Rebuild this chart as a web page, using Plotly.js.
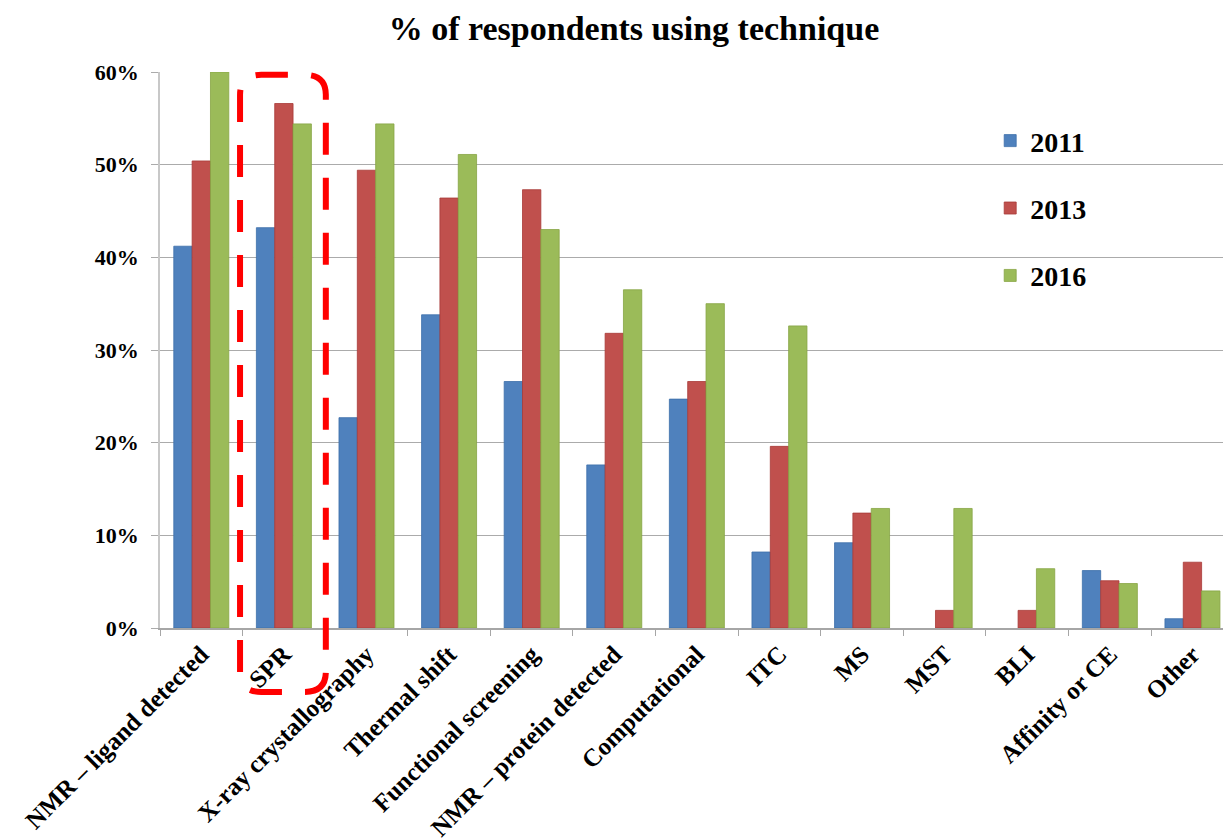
<!DOCTYPE html>
<html>
<head>
<meta charset="utf-8">
<script src="https://cdn.plot.ly/plotly-3.0.1.min.js"></script>
<style>html,body{margin:0;padding:0;overflow:hidden;background:#fff;}</style>
</head>
<body>
<div id="chart" style="width:1223px;height:840px;"></div>
<script>
const categories = ["NMR – ligand detected", "SPR", "X-ray crystallography", "Thermal shift",
  "Functional screening", "NMR – protein detected", "Computational", "ITC", "MS", "MST", "BLI",
  "Affinity or CE", "Other"];
const years = ["2011", "2013", "2016"];
const values2011 = [41.2, 43.2, 22.7, 33.8, 26.6, 17.6, 24.7, 8.2, 9.2, 0, 0, 6.2, 1.0];
const values2013 = [50.4, 56.6, 49.4, 46.4, 47.3, 31.8, 26.6, 19.6, 12.4, 1.9, 1.9, 5.1, 7.1];
const values2016 = [60.0, 54.4, 54.4, 51.1, 43.0, 36.5, 35.0, 32.6, 12.9, 12.9, 6.4, 4.8, 4.0];
const yTicks = [0, 10, 20, 30, 40, 50, 60];

const fills = ["#4F81BD", "#C0504D", "#9BBB59"];
const edges = ["#3C6EAA", "#A83A37", "#86A544"];
const series = [values2011, values2013, values2016];
const serif = "Liberation Serif, Times New Roman, serif";

const traces = series.map((vals, i) => ({
  type: "bar",
  name: years[i],
  x: categories,
  y: vals,
  legendgroup: years[i],
  marker: {color: fills[i], line: {color: edges[i], width: vals.map(v => v > 0 ? 0.8 : 0)}},
  hoverinfo: "x+y+name"
}));

// rounded dashed highlight around SPR (paper coordinates)
const hx0 = 0.0753, hx1 = 0.156, hy0 = -0.115, hy1 = 0.995, rx = 0.02, ry = 0.036;
const hlPath = `M ${hx0} ${hy0 + ry} L ${hx0} ${hy1 - ry} Q ${hx0} ${hy1} ${hx0 + rx} ${hy1} ` +
  `L ${hx1 - rx} ${hy1} Q ${hx1} ${hy1} ${hx1} ${hy1 - ry} L ${hx1} ${hy0 + ry} ` +
  `Q ${hx1} ${hy0} ${hx1 - rx} ${hy0} L ${hx0 + rx} ${hy0} Q ${hx0} ${hy0} ${hx0} ${hy0 + ry} Z`;

const layout = {
  width: 1223, height: 840,
  margin: {l: 160, r: 0, t: 72, b: 212, autoexpand: false},
  paper_bgcolor: "#ffffff", plot_bgcolor: "#ffffff",
  barmode: "group", bargap: 0.334, bargroupgap: 0,
  title: {
    text: "% of respondents using technique",
    font: {family: serif, size: 34, color: "#000", weight: "bold"},
    x: 634 / 1223, xref: "container", xanchor: "center",
    y: 1 - 28 / 840, yref: "container", yanchor: "middle"
  },
  xaxis: {
    type: "category",
    range: [-0.5, 12.37],
    showline: true, linecolor: "#a6a6a6", linewidth: 1.5,
    ticks: "outside", tickson: "boundaries", ticklen: 6, tickcolor: "#a6a6a6", tickwidth: 1.2,
    tickangle: -45,
    tickfont: {family: serif, size: 25, color: "#000", weight: "bold"},
    showgrid: false, zeroline: false, fixedrange: true
  },
  yaxis: {
    range: [0, 60],
    tickvals: yTicks,
    ticktext: yTicks.map(v => v + "%"),
    showgrid: true, gridcolor: "#ababab", gridwidth: 1.3,
    showline: true, linecolor: "#c8c8c8", linewidth: 1.5,
    ticks: "outside", ticklen: 7, tickcolor: "#ababab", tickwidth: 1.2,
    ticklabelstandoff: 8,
    tickfont: {family: serif, size: 22, color: "#000", weight: "bold"},
    zeroline: false, fixedrange: true
  },
  legend: {
    xref: "paper", yref: "paper",
    x: 0.781, xanchor: "left",
    y: 0.921, yanchor: "top",
    traceorder: "grouped", tracegroupgap: 28,
    font: {family: serif, size: 28, color: "#000", weight: "bold"},
    bgcolor: "rgba(0,0,0,0)", borderwidth: 0
  },
  shapes: [{
    type: "path", xref: "paper", yref: "paper", path: hlPath,
    line: {color: "#ff0000", width: 6, dash: "32px,23px"}, fillcolor: "rgba(0,0,0,0)"
  }],
  showlegend: true
};

Plotly.newPlot("chart", traces, layout, {displayModeBar: false});
</script>
</body>
</html>
